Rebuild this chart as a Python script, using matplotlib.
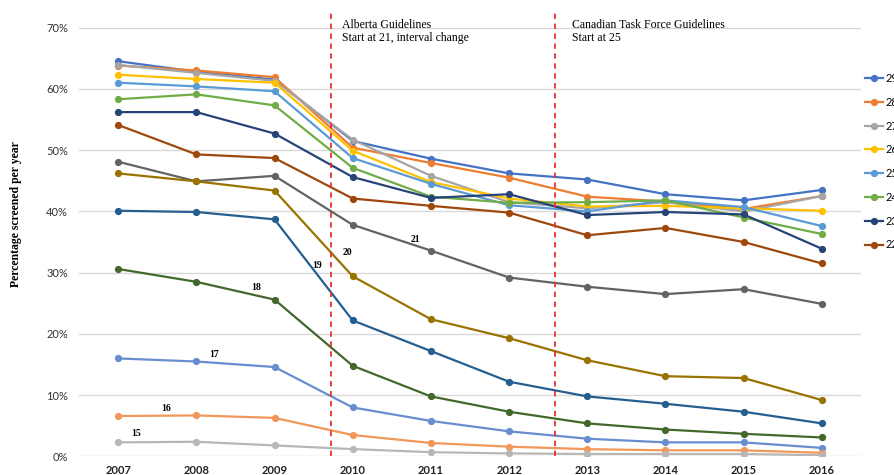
import matplotlib.pyplot as plt

years = list(range(2007, 2017))

# age groups, Excel series order (22-29 in legend, 15-21 labelled inline)
ages = ["29", "28", "27", "26", "25", "24", "23", "22",
        "21", "20", "19", "18", "17", "16", "15"]

s29 = [64.5, 62.8, 61.5, 51.5, 48.6, 46.2, 45.2, 42.8, 41.8, 43.5]
s28 = [63.8, 63.0, 61.9, 50.4, 47.9, 45.5, 42.4, 41.6, 40.4, 42.5]
s27 = [63.9, 62.6, 61.3, 51.7, 45.8, 41.5, 40.5, 41.5, 40.0, 42.5]
s26 = [62.3, 61.6, 61.0, 49.9, 44.8, 42.1, 40.8, 40.9, 40.5, 40.1]
s25 = [61.0, 60.4, 59.6, 48.7, 44.5, 41.0, 40.0, 41.8, 40.7, 37.6]
s24 = [58.3, 59.1, 57.3, 47.1, 42.4, 41.4, 41.5, 41.8, 39.0, 36.3]
s23 = [56.2, 56.2, 52.7, 45.6, 42.2, 42.8, 39.4, 39.9, 39.5, 33.9]
s22 = [54.1, 49.3, 48.7, 42.1, 40.9, 39.8, 36.1, 37.3, 35.0, 31.5]
s21 = [48.1, 44.9, 45.8, 37.8, 33.6, 29.2, 27.7, 26.5, 27.3, 24.9]
s20 = [46.2, 44.9, 43.4, 29.4, 22.4, 19.3, 15.7, 13.1, 12.8, 9.2]
s19 = [40.1, 39.9, 38.7, 22.2, 17.2, 12.2, 9.8, 8.6, 7.3, 5.4]
s18 = [30.6, 28.5, 25.6, 14.8, 9.8, 7.3, 5.4, 4.4, 3.7, 3.1]
s17 = [16.0, 15.5, 14.6, 8.0, 5.8, 4.1, 2.9, 2.3, 2.3, 1.4]
s16 = [6.6, 6.7, 6.3, 3.5, 2.2, 1.6, 1.2, 1.0, 1.0, 0.6]
s15 = [2.3, 2.4, 1.8, 1.2, 0.7, 0.5, 0.4, 0.4, 0.4, 0.2]

series = [s29, s28, s27, s26, s25, s24, s23, s22,
          s21, s20, s19, s18, s17, s16, s15]
colors = ["#4472C4", "#ED7D31", "#A5A5A5", "#FFC000", "#5B9BD5", "#70AD47",
          "#264478", "#9E480E", "#636363", "#997300", "#255E91", "#43682B",
          "#698ED0", "#F1975A", "#B7B7B7"]

# inline labels for the younger groups
inline_labels = ["15", "16", "17", "18", "19", "20", "21"]
inline_x = [2007.23, 2007.62, 2008.23, 2008.77, 2009.54, 2009.93, 2010.8]
inline_y = [3.8, 7.8, 16.6, 27.5, 31.2, 33.3, 35.4]

guide_x = [2009.72, 2012.59]

fig = plt.figure(figsize=(8.95, 4.75), dpi=100)
ax = fig.add_axes([0.0883, 0.039, 0.8737, 0.903])

handles = []
for ys, c, lab in zip(series, colors, ages):
    h, = ax.plot(years, ys, color=c, lw=1.6, marker="o", markersize=4.2,
                 label=lab)
    handles.append(h)

ax.set_xlim(2006.5, 2016.5)
ax.set_ylim(0, 70)
ax.set_xticks(years)
ax.set_xticklabels([str(y) for y in years], fontfamily="Lato",
                   fontweight="bold", fontsize=8, color="#222222")
ax.set_yticks(range(0, 71, 10))
ax.set_yticklabels([f"{v}%" for v in range(0, 71, 10)], fontfamily="Lato",
                   fontsize=8, color="#333333")
ax.tick_params(axis="y", length=0, pad=8)
ax.tick_params(axis="x", length=0, pad=6)
ax.grid(axis="y", color="#D9D9D9", lw=1)
ax.set_axisbelow(True)
for s in ax.spines.values():
    s.set_visible(False)

# y label sits a bit above the axis centre in the original
fig.text(16 / 895, 1 - 214 / 475, "Percentage screened per year",
         rotation=90, ha="center", va="center",
         fontfamily="Liberation Serif", fontweight="bold", fontsize=8.5)

# guideline change markers
for xv in guide_x:
    ax.plot([xv, xv], [0, 72.8], color="#E8302F", lw=1.3,
            linestyle=(0, (3, 2.5)), clip_on=False, zorder=5)

ax.text(2009.865, 71.4, "Alberta Guidelines\nStart at 21, interval change",
        fontfamily="Liberation Serif", fontsize=8.5, va="top", ha="left",
        linespacing=1.1)
ax.text(2012.8, 71.4, "Canadian Task Force Guidelines\nStart at 25",
        fontfamily="Liberation Serif", fontsize=8.5, va="top", ha="left",
        linespacing=1.1)

for t, xv, yv in zip(inline_labels, inline_x, inline_y):
    ax.text(xv, yv, t, fontfamily="Liberation Serif", fontweight="bold",
            fontsize=7, ha="center", va="center")

fig.legend(handles[:8], ages[:8], loc="upper left",
           bbox_to_anchor=(0.960, 0.858), frameon=False,
           prop={"family": "Lato", "size": 8}, handlelength=1.6,
           handletextpad=0.3, labelspacing=1.15, borderpad=0)

fig.savefig("out.png", dpi=100)
